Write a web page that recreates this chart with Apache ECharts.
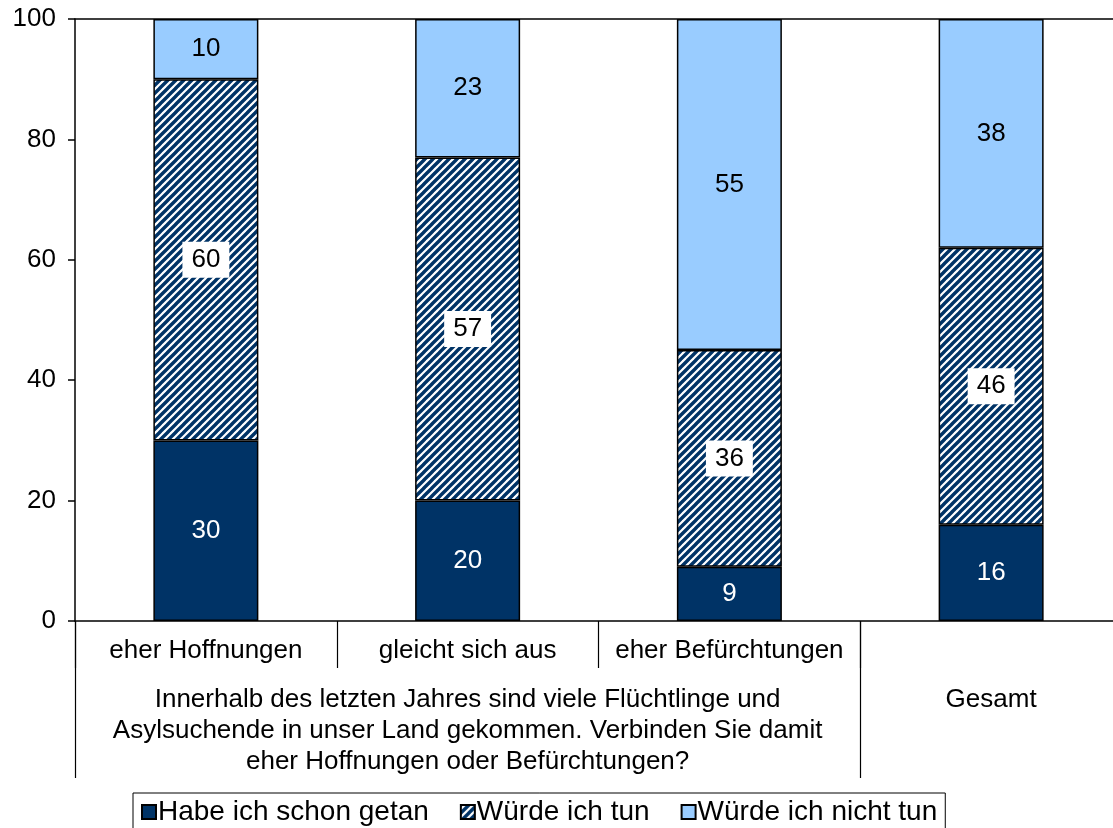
<!DOCTYPE html>
<html>
<head>
<meta charset="utf-8">
<script src="https://cdn.jsdelivr.net/npm/echarts@6/dist/echarts.min.js"></script>
<style>
  html, body { margin: 0; padding: 0; background: #fff; }
  #chart { width: 1113px; height: 828px; }
</style>
</head>
<body>
<div id="chart"></div>
<script>
// Kategorien (erste Ebene) und Gruppen (zweite Ebene)
const subLabels = ['eher Hoffnungen', 'gleicht sich aus', 'eher Befürchtungen', ''];
const groupLabels = [
  'Innerhalb des letzten Jahres sind viele Flüchtlinge und\nAsylsuchende in unser Land gekommen. Verbinden Sie damit\neher Hoffnungen oder Befürchtungen?',
  'Gesamt'
];
const groupCenters = [1.5, 3.5];
const groupBounds = [0, 3];

// Werte in Prozent
const seriesNames = ['Habe ich schon getan', 'Würde ich tun', 'Würde ich nicht tun'];
const habeGetan = [30, 20, 9, 16];
const wuerdeTun = [60, 57, 36, 46];
const wuerdeNicht = [10, 23, 55, 38];

const yTicks = [0, 20, 40, 60, 80, 100];

const NAVY = '#003366';
const LIGHT = '#99CCFF';
const FONT = 'Liberation Sans, Arial, sans-serif';
const FS = 26;

// Schraffur-Muster fuer "Würde ich tun"
function makeHatch() {
  const c = document.createElement('canvas');
  c.width = 8; c.height = 8;
  const ctx = c.getContext('2d');
  ctx.fillStyle = '#ffffff';
  ctx.fillRect(0, 0, 8, 8);
  ctx.strokeStyle = NAVY;
  ctx.lineWidth = 3.4;
  ctx.beginPath();
  for (let k = -1; k <= 1; k++) {
    ctx.moveTo(k * 8 - 1, 9);
    ctx.lineTo(k * 8 + 9, -1);
  }
  ctx.stroke();
  return c;
}
const hatch = { image: makeHatch(), repeat: 'repeat' };

const chart = echarts.init(document.getElementById('chart'));

const barBase = {
  type: 'bar',
  stack: 'total',
  barWidth: 105,
  xAxisIndex: 0,
  emphasis: { disabled: true }
};

chart.setOption({
  animation: false,
  textStyle: { fontFamily: FONT },
  grid: {
    left: 75, right: -9, top: 19, bottom: 207,
    containLabel: false,
    outerBoundsMode: 'none'
  },
  legend: {
    bottom: -10,
    left: 133,
    padding: [5, 8, 12, 8],
    borderColor: '#000',
    borderWidth: 1,
    itemWidth: 14,
    itemHeight: 14,
    itemGap: 31,
    icon: 'rect',
    textStyle: { fontSize: 28, color: '#000', fontFamily: FONT, padding: [0, 0, 0, -3] },
    data: seriesNames
  },
  xAxis: [
    {
      type: 'category',
      position: 'bottom',
      data: subLabels,
      axisLine: { lineStyle: { color: '#000', width: 1.5 } },
      axisTick: { show: true, interval: 0, length: 47, lineStyle: { color: '#000', width: 1.2 } },
      axisLabel: { interval: 0, margin: 17, fontSize: FS, color: '#000', fontFamily: FONT }
    },
    {
      type: 'value',
      position: 'bottom',
      min: 0, max: 4,
      axisLine: { show: false },
      splitLine: { show: false },
      axisTick: {
        show: true, customValues: groupBounds, length: 157,
        lineStyle: { color: '#000', width: 1.2 }
      },
      axisLabel: {
        customValues: groupCenters,
        margin: 63,
        fontSize: FS,
        lineHeight: 31,
        color: '#000',
        fontFamily: FONT,
        align: 'center',
        formatter: function (v) {
          return groupLabels[groupCenters.indexOf(v)] || '';
        }
      }
    },
    {
      type: 'category',
      position: 'top',
      data: subLabels,
      axisLine: { lineStyle: { color: '#000', width: 1.5 } },
      axisTick: { show: false },
      axisLabel: { show: false }
    }
  ],
  yAxis: {
    type: 'value',
    min: yTicks[0], max: yTicks[yTicks.length - 1], interval: 20,
    axisLine: { show: true, lineStyle: { color: '#000', width: 1.5 } },
    axisTick: { show: true, length: 7, lineStyle: { color: '#000', width: 1.5 } },
    splitLine: { show: false },
    axisLabel: { fontSize: FS, color: '#000', margin: 19, fontFamily: FONT }
  },
  series: [
    Object.assign({}, barBase, {
      name: seriesNames[0],
      data: habeGetan,
      itemStyle: { color: NAVY, borderColor: '#000', borderWidth: 1.5 },
      label: { show: true, position: 'inside', color: '#fff', fontSize: FS, fontFamily: FONT }
    }),
    Object.assign({}, barBase, {
      name: seriesNames[1],
      data: wuerdeTun,
      itemStyle: { color: hatch, borderColor: '#000', borderWidth: 1.5 },
      label: {
        show: true, position: 'inside', color: '#000', fontSize: FS, fontFamily: FONT,
        backgroundColor: '#fff', padding: [6, 9, 4, 9]
      }
    }),
    Object.assign({}, barBase, {
      name: seriesNames[2],
      data: wuerdeNicht,
      itemStyle: { color: LIGHT, borderColor: '#000', borderWidth: 1.5 },
      label: { show: true, position: 'inside', color: '#000', fontSize: FS, fontFamily: FONT }
    })
  ]
});
</script>
</body>
</html>
